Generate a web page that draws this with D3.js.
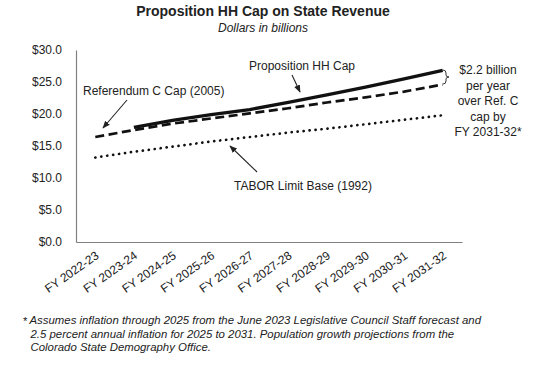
<!DOCTYPE html>
<html><head><meta charset="utf-8">
<script src="https://cdn.jsdelivr.net/npm/d3@7"></script>
<style>
body{margin:0;background:#fff;}
text{font-family:"Liberation Sans",Arial,sans-serif;fill:#222;}
</style></head>
<body><svg id="c" width="551" height="366"></svg>
<script>
const categories = ["FY 2022-23","FY 2023-24","FY 2024-25","FY 2025-26","FY 2026-27","FY 2027-28","FY 2028-29","FY 2029-30","FY 2030-31","FY 2031-32"];
const propHH = [null,17.9,19.0,19.9,20.7,21.8,23.0,24.2,25.5,26.8];
const refC   = [16.4,17.5,18.5,19.3,20.1,20.9,21.8,22.6,23.5,24.6];
const tabor  = [13.2,14.1,14.9,15.7,16.4,17.1,17.7,18.4,19.1,19.8];
const yTicks = [0,5,10,15,20,25,30];

const svg = d3.select("#c");
const x = d3.scaleBand().domain(categories).range([76,462]).padding(0);
const y = d3.scaleLinear().domain([0,30]).range([242,50]);
const cx = c => x(c) + x.bandwidth()/2;

// title
svg.append("text").attr("x",263).attr("y",16).attr("text-anchor","middle")
  .style("font-weight","bold").style("font-size","14px").text("Proposition HH Cap on State Revenue");
svg.append("text").attr("x",263).attr("y",32).attr("text-anchor","middle")
  .style("font-style","italic").style("font-size","12px").text("Dollars in billions");

// y axis
const ya = svg.append("g").attr("transform","translate(76,0)")
  .call(d3.axisLeft(y).tickValues(yTicks).tickSize(0).tickPadding(14).tickFormat(d=>"$"+d.toFixed(1)));
ya.select(".domain").attr("stroke","#808080").attr("stroke-width",1.2);
ya.selectAll("text").style("font-size","12px").style("font-family","Liberation Sans, Arial, sans-serif").attr("fill","#222");

// x axis
const xa = svg.append("g").attr("transform","translate(0,242)")
  .call(d3.axisBottom(x).tickSize(0).tickSizeOuter(0));
xa.select(".domain").attr("stroke","#808080").attr("stroke-width",1.2);
xa.selectAll("text").style("font-size","12px").style("font-family","Liberation Sans, Arial, sans-serif").attr("fill","#222")
  .attr("text-anchor","end").attr("x",0).attr("y",0).attr("dy","0.35em")
  .attr("transform","translate(2,12) rotate(-35)");

// lines
const mk = arr => d3.line().defined(d=>d[1]!=null).x(d=>cx(d[0])).y(d=>y(d[1]))(categories.map((c,i)=>[c,arr[i]]));
svg.append("path").attr("d",mk(tabor)).attr("fill","none").attr("stroke","#111")
  .attr("stroke-width",2.7).attr("stroke-linecap","round").attr("stroke-dasharray","0.1 5.9");
svg.append("path").attr("d",mk(propHH)).attr("fill","none").attr("stroke","#111").attr("stroke-width",3.3);
svg.append("path").attr("d",mk(refC)).attr("fill","none").attr("stroke","#111")
  .attr("stroke-width",2.7).attr("stroke-dasharray","9 4.5");

// arrow marker
svg.append("defs").append("marker").attr("id","ah").attr("viewBox","0 0 10 10").attr("refX",9).attr("refY",5)
  .attr("markerWidth",7).attr("markerHeight",7).attr("orient","auto")
  .append("path").attr("d","M0,1 L10,5 L0,9 z").attr("fill","#222");

const lbl = (t,xx,yy,anchor) => svg.append("text").attr("x",xx).attr("y",yy).attr("text-anchor",anchor||"middle")
  .style("font-size","12px").text(t);
const arrow = (x1,y1,x2,y2) => svg.append("line").attr("x1",x1).attr("y1",y1).attr("x2",x2).attr("y2",y2)
  .attr("stroke","#222").attr("stroke-width",1.1).attr("marker-end","url(#ah)");

lbl("Proposition HH Cap",302,70);
arrow(292,75,300,92);
lbl("Referendum C Cap (2005)",83,95,"start");
arrow(127,100,103,128);
lbl("TABOR Limit Base (1992)",303,190);
arrow(257,172,230,146);

// bracket
svg.append("path").attr("d","M443,70 Q446,70 446,73 L446,75 Q446,77 449,77 Q446,77 446,79 L446,81 Q446,84 443,84")
  .attr("fill","none").attr("stroke","#333").attr("stroke-width",1);
const side = ["$2.2 billion","per year","over Ref. C","cap by","FY 2031-32*"];
side.forEach((t,i)=>lbl(t,488,74+i*15.5));

// footnote
const foot = svg.append("g").style("font-size","11.4px").style("font-style","italic");
foot.append("text").attr("x",23).attr("y",325).style("font-style","normal").text("*");
["Assumes inflation through 2025 from the June 2023 Legislative Council Staff forecast and",
 "2.5 percent annual inflation for 2025 to 2031. Population growth projections from the",
 "Colorado State Demography Office."].forEach((t,i)=>
  foot.append("text").attr("x",i==0?29.5:30.5).attr("y",324+i*13.7).text(t));
</script></body></html>
